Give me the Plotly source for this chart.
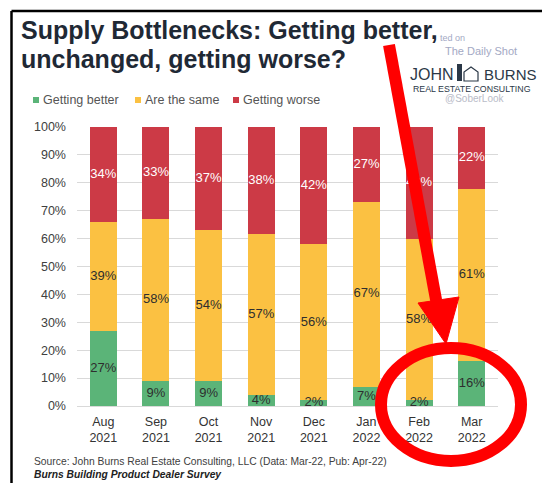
import plotly.graph_objects as go

# ---------------- data ----------------
months = ["Aug<br>2021", "Sep<br>2021", "Oct<br>2021", "Nov<br>2021",
          "Dec<br>2021", "Jan<br>2022", "Feb<br>2022", "Mar<br>2022"]
better = [27, 9, 9, 4, 2, 7, 2, 16]
same = [39, 58, 54, 57, 56, 67, 58, 61]
worse = [34, 33, 37, 38, 42, 27, 40, 22]
series_names = ["Getting better", "Are the same", "Getting worse"]
y_tick_vals = [0, 10, 20, 30, 40, 50, 60, 70, 80, 90, 100]
y_tick_text = [f"{v}%" for v in y_tick_vals]
title_lines = ["Supply Bottlenecks: Getting better,", "unchanged, getting worse?"]

colors = ["#5bb478", "#fbc142", "#cc3a46"]
text_colors = ["#2e2e2e", "#2e2e2e", "#ffffff"]
FONT = "Liberation Sans, Arial, sans-serif"

W, H = 542, 483
ML, MR, MT, MB = 77, 44, 127, 77
PW, PH = W - ML - MR, H - MT - MB


def fx(px):
    return (px - ML) / PW


def fy(py):
    return (H - MB - py) / PH


series = [better, same, worse]
totals = [sum(v) for v in zip(*series)]

fig = go.Figure()
for name, vals, col in zip(series_names, series, colors):
    fig.add_trace(go.Bar(
        x=months, y=vals, name=name,
        marker=dict(color=col, line=dict(width=0)),
        showlegend=False, hoverinfo="skip",
    ))

# segment labels placed at the middle of each (normalised) segment
base = [0.0] * len(months)
for vals, tcol in zip(series, text_colors):
    mids = [(b + v / 2) / t * 100 for b, v, t in zip(base, vals, totals)]
    fig.add_trace(go.Scatter(
        x=months, y=mids, mode="text",
        text=[f"{v}%" for v in vals],
        textposition="middle center",
        textfont=dict(family=FONT, size=13, color=tcol),
        cliponaxis=False, showlegend=False, hoverinfo="skip",
    ))
    base = [b + v for b, v in zip(base, vals)]

shapes = []
annotations = []

# frame
shapes.append(dict(type="line", xref="paper", yref="paper",
                   x0=fx(11.5), x1=fx(560), y0=fy(11), y1=fy(11),
                   line=dict(color="#000000", width=2.5), layer="above"))
shapes.append(dict(type="line", xref="paper", yref="paper",
                   x0=fx(11.5), x1=fx(11.5), y0=fy(11), y1=fy(500),
                   line=dict(color="#000000", width=2.5), layer="above"))

# title
for line, yc in zip(title_lines, [30, 59]):
    annotations.append(dict(
        xref="paper", yref="paper", x=fx(19), y=fy(yc), xanchor="left", yanchor="middle",
        align="left", showarrow=False,
        text=f"<b>{line}</b>",
        font=dict(family=FONT, size=25, color="#1f2935")))

# manual legend
leg_x = [33, 135, 233]
for name, col, lx in zip(series_names, colors, leg_x):
    shapes.append(dict(type="rect", xref="paper", yref="paper",
                       x0=fx(lx), x1=fx(lx + 6), y0=fy(97), y1=fy(103),
                       fillcolor=col, line=dict(width=0)))
    annotations.append(dict(xref="paper", yref="paper", x=fx(lx + 8), y=fy(100),
                            xanchor="left", yanchor="middle", showarrow=False,
                            text=name, font=dict(family=FONT, size=12.5, color="#555555")))

# watermark / logo
wm = [
    ("ted on", 438, 38, 9, "#a3a9c4"),
    ("The Daily Shot", 443, 51, 11, "#a3a9c4"),
    ("JOHN", 408, 74, 16, "#2b3847"),
    ("BURNS", 482, 74, 15, "#2b3847"),
    ("REAL ESTATE CONSULTING", 411, 89, 8.8, "#2b3847"),
    ("@SoberLook", 443, 98, 10, "#b9bcc8"),
]
for t, x, y, s, c in wm:
    annotations.append(dict(xref="paper", yref="paper", x=fx(x), y=fy(y),
                            xanchor="left", yanchor="middle", showarrow=False,
                            text=t, font=dict(family=FONT, size=s, color=c)))
# small building icon
shapes.append(dict(type="rect", xref="paper", yref="paper",
                   x0=fx(457), x1=fx(462), y0=fy(81), y1=fy(64),
                   fillcolor="#2b3847", line=dict(width=0)))
shapes.append(dict(type="path", xref="paper", yref="paper",
                   path=f"M{fx(464)},{fy(81)} L{fx(464)},{fy(72)} L{fx(471)},{fy(67)} "
                        f"L{fx(478)},{fy(72)} L{fx(478)},{fy(81)} Z",
                   fillcolor="rgba(0,0,0,0)", line=dict(color="#2b3847", width=1.2)))

# red arrow + ellipse
shapes.append(dict(type="line", xref="paper", yref="paper",
                   x0=fx(389), y0=fy(45), x1=fx(437), y1=fy(305),
                   line=dict(color="#ff0000", width=12), layer="above"))
shapes.append(dict(type="path", xref="paper", yref="paper",
                   path=f"M{fx(418)},{fy(303)} L{fx(459)},{fy(297)} L{fx(446)},{fy(344)} Z",
                   fillcolor="#ff0000", line=dict(color="#ff0000", width=1), layer="above"))
shapes.append(dict(type="circle", xref="paper", yref="paper",
                   x0=fx(381), x1=fx(521), y0=fy(348), y1=fy(461),
                   line=dict(color="#ff0000", width=12), layer="above"))

# source
annotations.append(dict(xref="paper", yref="paper", x=fx(32), y=fy(461),
                        xanchor="left", yanchor="middle", showarrow=False,
                        text="Source: John Burns Real Estate Consulting, LLC (Data: Mar-22, Pub: Apr-22)",
                        font=dict(family=FONT, size=10.3, color="#404040")))
annotations.append(dict(xref="paper", yref="paper", x=fx(32), y=fy(474),
                        xanchor="left", yanchor="middle", showarrow=False,
                        text="<b><i>Burns Building Product Dealer Survey</i></b>",
                        font=dict(family=FONT, size=10.3, color="#222222")))

fig.update_layout(
    width=W, height=H,
    margin=dict(l=ML, r=MR, t=MT, b=MB, pad=0),
    paper_bgcolor="#ffffff", plot_bgcolor="#ffffff",
    barmode="stack", barnorm="percent", bargap=0.485,
    font=dict(family=FONT, size=12.5, color="#404040"),
    shapes=shapes, annotations=annotations,
    xaxis=dict(showgrid=False, showline=False, ticks="",
               ticklabelstandoff=6,
               tickfont=dict(family=FONT, size=12.5, color="#333333"),
               fixedrange=True),
    yaxis=dict(range=[0, 100], tickvals=y_tick_vals, ticktext=y_tick_text,
               showgrid=True, gridcolor="#d9d9d9", gridwidth=1,
               zeroline=True, zerolinecolor="#d9d9d9", zerolinewidth=1,
               showline=False, ticks="", ticklabelstandoff=10,
               tickfont=dict(family=FONT, size=12.5, color="#404040"),
               fixedrange=True),
)

fig.write_html("out.html")
